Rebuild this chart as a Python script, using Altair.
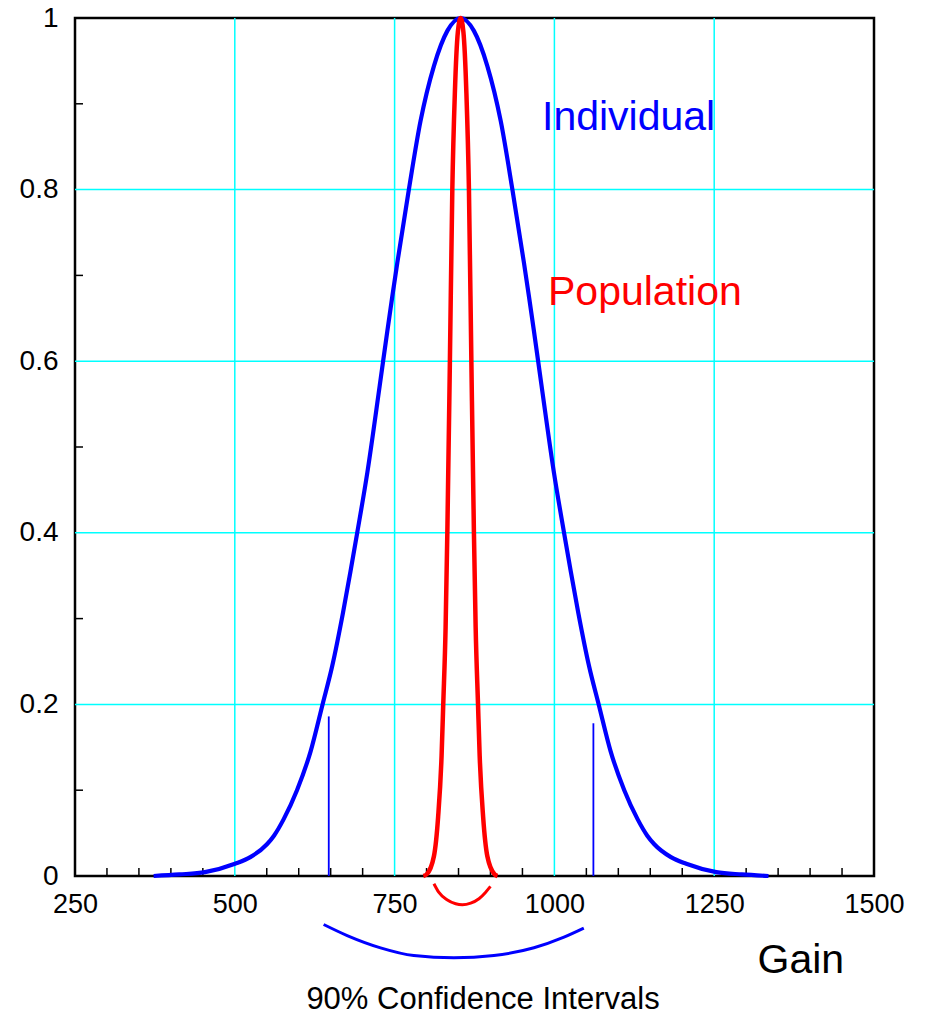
import altair as alt
import pandas as pd

FONT = "Liberation Sans"

# Individual (blue) curve
ind_x = [373, 413.3, 453.3, 500.3, 524.3, 550.3, 561.3, 576.3, 597.3, 618.5, 637.3, 652.5, 669.3, 681,
         691.5, 707.3, 726.8, 738.6, 746.3, 754.3, 772.3, 790.6, 811.5, 832.5, 853.3,
         874.1, 895.1, 916, 934.3, 952.3, 960.3, 968, 979.8, 999.3, 1015.1, 1025.6, 1037.3, 1054.1,
         1069.3, 1088.1, 1109.3, 1130.3, 1145.3, 1156.3, 1182.3, 1206.3, 1253.3, 1293.3, 1335]
ind_y = [0.0, 0.0018, 0.0045, 0.0143, 0.022, 0.037, 0.047, 0.066, 0.100, 0.145, 0.200, 0.245, 0.307, 0.355,
         0.400, 0.470, 0.572, 0.635, 0.675, 0.715, 0.800, 0.880, 0.944, 0.985, 1.000,
         0.985, 0.944, 0.880, 0.800, 0.715, 0.675, 0.635, 0.572, 0.470, 0.400, 0.355, 0.307, 0.245,
         0.200, 0.145, 0.100, 0.066, 0.047, 0.037, 0.022, 0.0143, 0.0045, 0.0018, 0.0]

# Population (red) curve
pop_x = [795, 800.3, 811.5, 818.1, 823.5, 826.1, 829.8, 832.5, 836.5, 840.3, 844.3, 849, 853.3,
         857.6, 862.3, 866.3, 870.1, 874.1, 876.8, 880.5, 883.1, 888.5, 895.1, 906.3, 911]
pop_y = [0.0, 0.002, 0.023, 0.069, 0.14, 0.2, 0.29, 0.4, 0.6, 0.8, 0.913, 0.984, 1.0,
         0.984, 0.913, 0.8, 0.6, 0.4, 0.29, 0.2, 0.14, 0.069, 0.023, 0.002, 0.0]

# 90% interval markers of the individual curve
ci_x = [647, 1061]
ci_top = [0.186, 0.178]

# Brackets under the axis
red_arc_x = [811.5, 819, 832, 845.5, 856, 869, 882, 892.5, 900]
red_arc_y = [-0.009, -0.0188, -0.0277, -0.0324, -0.0335, -0.0316, -0.0265, -0.0188, -0.0121]
blue_arc_x = [639, 675.8, 728, 780, 842.8, 905.4, 968, 1015, 1046]
blue_arc_y = [-0.0565, -0.0694, -0.0837, -0.0927, -0.0954, -0.0927, -0.0837, -0.0713, -0.0608]

# Axes
x_major = [250, 500, 750, 1000, 1250, 1500]
y_major = [0, 0.2, 0.4, 0.6, 0.8, 1.0]
x_grid = [500, 750, 1000, 1250]
y_grid = [0.2, 0.4, 0.6, 0.8]
x_minor = [300, 350, 400, 450, 550, 600, 650, 700, 800, 850, 900, 950,
           1050, 1100, 1150, 1200, 1300, 1350, 1400, 1450]
y_minor = [0.1, 0.3, 0.5, 0.7, 0.9]

W, H = 799, 858
CYAN = "#00FFFF"
xs = alt.Scale(domain=[250, 1500], nice=False, zero=False)
ys = alt.Scale(domain=[0, 1], nice=False, zero=False)

xaxis = alt.Axis(values=x_major, format="d", grid=False,
                 ticks=False, tickSize=0, domain=False, labelPadding=15, labelFontSize=27,
                 labelFont=FONT, labelColor="black", labelFlush=False,
                 title="Gain", titleFont=FONT, titleFontSize=41, titleFontWeight="normal",
                 titleColor="black", titleAnchor="start", titleAlign="left",
                 titleBaseline="alphabetic", titleX=682, titleY=96)
yaxis = alt.Axis(values=y_major, format="~g", grid=False,
                 ticks=False, tickSize=0, domain=False, labelPadding=17, labelFontSize=28,
                 labelFont=FONT, labelColor="black", labelFlush=False, title=None)

xgrid = alt.Chart(pd.DataFrame({"g": x_grid})).mark_rule(color=CYAN, strokeWidth=1.5).encode(
    x=alt.X("g:Q", scale=xs, axis=xaxis))
ygrid = alt.Chart(pd.DataFrame({"g": y_grid})).mark_rule(color=CYAN, strokeWidth=1.5).encode(
    y=alt.Y("g:Q", scale=ys, axis=yaxis))

ind = alt.Chart(pd.DataFrame({"x": ind_x, "y": ind_y})).mark_line(
    color="#0000FF", strokeWidth=4.2, interpolate="monotone").encode(
    x=alt.X("x:Q", scale=xs), y=alt.Y("y:Q", scale=ys))

pop = alt.Chart(pd.DataFrame({"x": pop_x, "y": pop_y})).mark_line(
    color="#FF0000", strokeWidth=4.5, interpolate="monotone").encode(
    x=alt.X("x:Q", scale=xs), y=alt.Y("y:Q", scale=ys))

ci = alt.Chart(pd.DataFrame({"x": ci_x, "y": [0, 0], "y2": ci_top})).mark_rule(
    color="#0000FF", strokeWidth=1.8).encode(
    x=alt.X("x:Q", scale=xs), y=alt.Y("y:Q", scale=ys), y2="y2:Q")

xminor = alt.Chart(pd.DataFrame({"t": x_minor})).mark_rule(color="black", strokeWidth=1.5).encode(
    x=alt.X("t:Q", scale=xs), y=alt.value(H), y2=alt.value(H - 8))
yminor = alt.Chart(pd.DataFrame({"t": y_minor})).mark_rule(color="black", strokeWidth=1.5).encode(
    y=alt.Y("t:Q", scale=ys), x=alt.value(0), x2=alt.value(8))

red_arc = alt.Chart(pd.DataFrame({"x": red_arc_x, "y": red_arc_y})).mark_line(
    color="#FF0000", strokeWidth=3, interpolate="monotone", clip=False).encode(
    x=alt.X("x:Q", scale=xs), y=alt.Y("y:Q", scale=ys))
blue_arc = alt.Chart(pd.DataFrame({"x": blue_arc_x, "y": blue_arc_y})).mark_line(
    color="#0000FF", strokeWidth=3, interpolate="monotone", clip=False).encode(
    x=alt.X("x:Q", scale=xs), y=alt.Y("y:Q", scale=ys))

lbl_ind = alt.Chart(pd.DataFrame({"t": ["Individual"]})).mark_text(
    font=FONT, fontSize=41, color="#0000FF", align="left", baseline="alphabetic").encode(
    text="t:N", x=alt.value(467), y=alt.value(112))
lbl_pop = alt.Chart(pd.DataFrame({"t": ["Population"]})).mark_text(
    font=FONT, fontSize=41, color="#FF0000", align="left", baseline="alphabetic").encode(
    text="t:N", x=alt.value(473), y=alt.value(287))
lbl_ci = alt.Chart(pd.DataFrame({"t": ["90% Confidence Intervals"]})).mark_text(
    font=FONT, fontSize=31, color="black", align="center", baseline="alphabetic").encode(
    text="t:N", x=alt.value(408), y=alt.value(991))

chart = alt.layer(xgrid, ygrid, xminor, yminor, ind, pop, ci, red_arc, blue_arc,
                  lbl_ind, lbl_pop, lbl_ci).properties(
    width=W, height=H,
    autosize=alt.AutoSizeParams(type="none"),
    padding={"left": 67, "top": 10, "right": 44, "bottom": 140},
).configure(
    background="white",
    view=alt.ViewConfig(stroke="black", strokeWidth=2.5),
)

chart.save("out.html", embed_options={"renderer": "svg", "actions": False})
